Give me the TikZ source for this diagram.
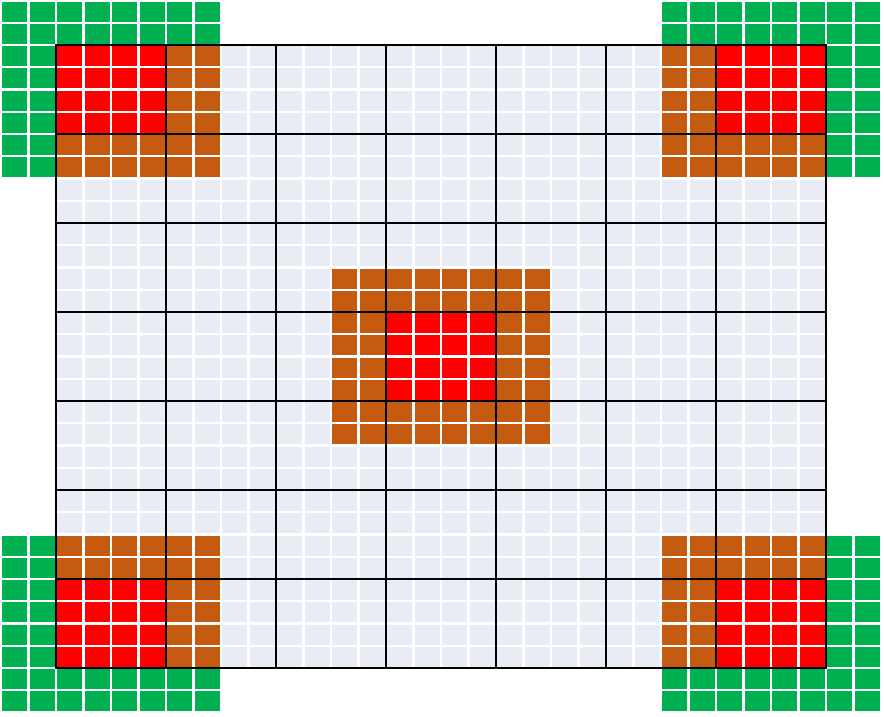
\documentclass[tikz,border=0pt]{standalone}
\definecolor{nen}{HTML}{E9EBF5}
\definecolor{xanh}{HTML}{00B050}
\definecolor{cam}{HTML}{C55A11}
\definecolor{do}{HTML}{FF0000}
\begin{document}
\begin{tikzpicture}[x=0.55cm,y=-0.445cm,
	luoinho/.style={white,line width=1.3pt},
	luoilon/.style={black,line width=1.2pt}]
	\useasboundingbox (-2.036,-2.0225) rectangle (30.109,30.157);
	\path
	%	Khung lưới
	(0,0) coordinate (A)
	(28,0) coordinate (B)
	(28,28) coordinate (C)
	(0,28) coordinate (D)
	(10,10) coordinate (O1)
	(18,18) coordinate (O2)
	(12,12) coordinate (R1)
	(16,16) coordinate (R2)
	;
	%	Vẽ nền
	\fill[nen] (A) rectangle (C);
	%	Bốn góc
	\foreach \gx/\gy/\ox/\oy/\rx/\ry in {-2/-2/0/0/0/0, 22/-2/22/0/24/0, -2/22/0/22/0/24, 22/22/22/22/24/24}{
		\fill[xanh] (\gx,\gy) rectangle ++(8,8);
		\fill[cam] (\ox,\oy) rectangle ++(6,6);
		\fill[do] (\rx,\ry) rectangle ++(4,4);
	}
	%	Ở giữa
	\fill[cam] (O1) rectangle (O2);
	\fill[do] (R1) rectangle (R2);
	%	Lưới nhỏ
	\foreach \i in {-2,...,30}{
		\draw[luoinho] (\i,-2.1)--(\i,30.2);
		\draw[luoinho] (-2.1,\i)--(30.2,\i);
	}
	%	Lưới lớn
	\foreach \i in {4,8,...,24}{
		\draw[luoilon] (\i,0)--(\i,28);
		\draw[luoilon] (0,\i)--(28,\i);
	}
	\draw[luoilon] (A)--(B)--(C)--(D)--cycle;
\end{tikzpicture}
\end{document}
